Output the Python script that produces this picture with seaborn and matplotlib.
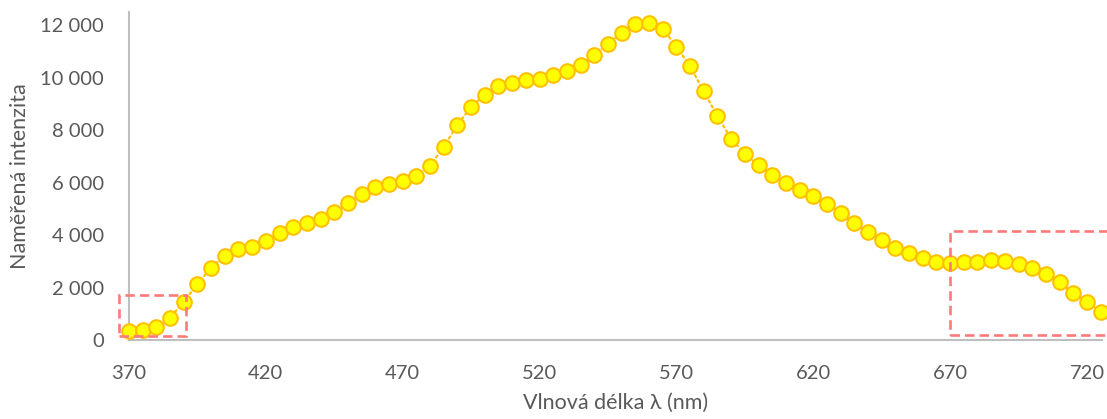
import matplotlib
matplotlib.use("Agg")
import matplotlib.pyplot as plt
import matplotlib.patches as patches
import matplotlib.ticker as mticker
import pandas as pd
import seaborn as sns

wavelength = [370, 375, 380, 385, 390, 395, 400, 405, 410, 415, 420, 425,
              430, 435, 440, 445, 450, 455, 460, 465, 470, 475, 480, 485,
              490, 495, 500, 505, 510, 515, 520, 525, 530, 535, 540, 545,
              550, 555, 560, 565, 570, 575, 580, 585, 590, 595, 600, 605,
              610, 615, 620, 625, 630, 635, 640, 645, 650, 655, 660, 665,
              670, 675, 680, 685, 690, 695, 700, 705, 710, 715, 720, 725]
intensity = [340, 380, 480, 850, 1460, 2130, 2760, 3210, 3470, 3560, 3760, 4060,
             4320, 4440, 4610, 4890, 5230, 5570, 5820, 5950, 6060, 6250, 6640, 7360,
             8200, 8880, 9350, 9680, 9780, 9900, 9930, 10080, 10260, 10480, 10870, 11280,
             11700, 12040, 12090, 11860, 11180, 10430, 9470, 8530, 7670, 7100, 6650, 6270,
             5980, 5730, 5470, 5170, 4840, 4470, 4110, 3800, 3520, 3310, 3120, 2980,
             2930, 2980, 2980, 3060, 3020, 2910, 2730, 2500, 2200, 1790, 1450, 1070]

x_ticks = [370, 420, 470, 520, 570, 620, 670, 720]
y_ticks = [0, 2000, 4000, 6000, 8000, 10000, 12000]

# highlighted regions: (x0, x1, y0, y1)
box_left = (366.5, 391, 160, 1715)
box_right = (670, 732, 190, 4150)

df = pd.DataFrame({"wl": wavelength, "val": intensity})

sns.set_style("white")
plt.rcParams["font.family"] = ["Lato", "DejaVu Sans"]
text_col = "#595959"

fig = plt.figure(figsize=(11.07, 4.19), dpi=100)
ax = fig.add_axes([0.1165, 0.1885, 0.879, 0.783])

sns.lineplot(data=df, x="wl", y="val", ax=ax, color="#FFC000",
             linestyle=(0, (1, 1.6)), linewidth=1.6, dash_capstyle="round",
             marker="o", markersize=10.5, markerfacecolor="#FFFF00",
             markeredgecolor="#FFC000", markeredgewidth=1.5, clip_on=False, zorder=3)

for x0, x1, y0, y1 in [box_left, box_right]:
    rect = patches.Rectangle((x0, y0), x1 - x0, y1 - y0, fill=False,
                             edgecolor="#FF7A7A", linewidth=1.9,
                             linestyle=(0, (3.6, 1.9)), clip_on=False, zorder=4)
    ax.add_patch(rect)

ax.set_xlim(370, 725.5)
ax.set_ylim(0, 12500)
ax.set_xticks(x_ticks)
ax.set_yticks(y_ticks)
ax.yaxis.set_major_formatter(mticker.FuncFormatter(lambda v, p: f"{int(v):,}".replace(",", " ")))

for s in ["top", "right"]:
    ax.spines[s].set_visible(False)
for s in ["left", "bottom"]:
    ax.spines[s].set_color("#BFBFBF")
    ax.spines[s].set_linewidth(1.5)

ax.tick_params(axis="both", direction="in", length=5, width=1.2, color="#BFBFBF",
               labelsize=14.5, labelcolor=text_col)
ax.tick_params(axis="y", pad=18)
ax.tick_params(axis="x", pad=18)

ax.set_xlabel("Vlnová délka λ (nm)", fontsize=15.5, color=text_col, labelpad=8)
ax.set_ylabel("Naměřená intenzita", fontsize=15.5, color=text_col, labelpad=7)

fig.savefig("out.png", dpi=100)
